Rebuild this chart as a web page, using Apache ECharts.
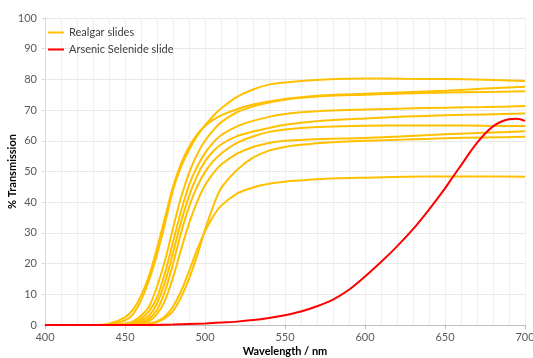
<!DOCTYPE html>
<html>
<head>
<meta charset="utf-8">
<script src="https://cdn.jsdelivr.net/npm/echarts@6/dist/echarts.min.js"></script>
<style>
  html, body { margin: 0; padding: 0; background: #fff; }
  #chart { width: 533px; height: 358px; }
</style>
</head>
<body>
<div id="chart"></div>
<script>
// wavelength (nm) sample points for the realgar curves
const wl = [400, 430, 440, 450, 455, 460, 465, 470, 475, 480, 485, 490, 495, 500, 505, 510, 520, 530, 540, 550, 560, 575, 600, 625, 650, 675, 700]

// % transmission, one array per realgar slide
const realgar1 = [0, 0, 0.2, 1.5, 3.5, 8, 14.5, 23, 33, 44, 51.5, 57, 61.5, 65, 68, 70.5, 74.3, 76.7, 78.3, 79, 79.5, 80, 80.3, 80.2, 80.1, 79.9, 79.5]
const realgar2 = [0, 0, 0.4, 2.5, 5, 9.5, 16, 25, 35, 45, 52.5, 58, 62, 64.8, 66.8, 68.3, 70.3, 71.8, 72.8, 73.6, 74.2, 74.8, 75.3, 75.8, 76.3, 77, 77.6]
const realgar3 = [0, 0, 0, 0.5, 1.2, 3, 6, 12.5, 21, 31.5, 41.5, 49.5, 55.5, 60, 63.3, 66, 69.3, 71.2, 72.5, 73.4, 74, 74.6, 75, 75.4, 75.7, 75.9, 76.1]
const realgar4 = [0, 0, 0, 0.3, 0.8, 2, 4.5, 9, 17, 27, 37, 45.5, 51.5, 56, 59.3, 61.8, 64.7, 66.5, 67.8, 68.7, 69.3, 69.8, 70.2, 70.5, 70.8, 71, 71.3]
const realgar5 = [0, 0, 0, 0.2, 0.5, 1.3, 3, 7, 14, 23.5, 33.5, 42, 48.5, 53.3, 56.5, 58.8, 61.5, 63, 64.2, 65.2, 65.9, 66.6, 67.3, 67.9, 68.3, 68.6, 68.9]
const realgar6 = [0, 0, 0, 0.1, 0.3, 0.8, 2, 5, 11, 20, 30, 38.5, 45, 49.8, 53.3, 55.8, 59.3, 61.4, 62.9, 63.7, 64.2, 64.6, 64.9, 65, 65, 64.9, 64.8]
const realgar7 = [0, 0, 0, 0, 0.2, 0.5, 1.3, 3.5, 8, 15.5, 24.5, 33, 40, 45.5, 49.3, 52.2, 55.8, 58, 59.3, 60, 60.3, 60.6, 60.9, 61.5, 62.1, 62.6, 63.1]
const realgar8 = [0, 0, 0, 0, 0, 0.2, 0.5, 1, 2.2, 4.5, 9, 15, 22.5, 31, 38.5, 44.5, 50.5, 54.5, 56.8, 58, 58.7, 59.4, 60, 60.4, 60.8, 61.1, 61.3]
const realgar9 = [0, 0, 0, 0, 0.1, 0.2, 0.5, 1.2, 2.8, 6, 11, 17.5, 24.5, 30.5, 35.3, 38.8, 42.8, 44.8, 46, 46.7, 47.1, 47.6, 48, 48.3, 48.4, 48.4, 48.3]
const realgarAll = [realgar1, realgar2, realgar3, realgar4, realgar5, realgar6, realgar7, realgar8, realgar9]

// arsenic selenide slide
const redWl = [400, 450, 480, 500, 510, 520, 530, 540, 550, 560, 570, 580, 590, 600, 610, 620, 630, 640, 650, 655, 660, 665, 670, 675, 680, 685, 690, 695, 700]
const selenide = [0, 0, 0.2, 0.5, 0.8, 1.1, 1.6, 2.3, 3.2, 4.4, 6.1, 8.3, 11.5, 15.8, 20.5, 25.6, 31.2, 37.6, 44.5, 48.3, 52, 55.8, 59.3, 62.3, 64.7, 66.2, 67, 67.2, 66.5]

const FONT = 'Lato'
const chart = echarts.init(document.getElementById('chart'))

const series = realgarAll.map((arr) => ({
  name: 'Realgar slides',
  type: 'line',
  smooth: 0.3,
  symbol: 'none',
  lineStyle: { color: '#FFC000', width: 2 },
  itemStyle: { color: '#FFC000' },
  data: wl.map((x, i) => [x, arr[i]])
}))
series.push({
  name: 'Arsenic Selenide slide',
  type: 'line',
  smooth: 0.3,
  symbol: 'none',
  lineStyle: { color: '#FF0000', width: 2 },
  itemStyle: { color: '#FF0000' },
  data: redWl.map((x, i) => [x, selenide[i]])
})

chart.setOption({
  animation: false,
  textStyle: { fontFamily: FONT },
  grid: { left: 45, right: 8, top: 18, bottom: 33, outerBoundsMode: 'none', containLabel: false },
  legend: {
    orient: 'vertical',
    left: 48,
    top: 27,
    padding: 0,
    itemWidth: 16,
    itemHeight: 2,
    itemGap: 6,
    icon: 'rect',
    textStyle: { fontFamily: FONT, fontSize: 11, color: '#404040' },
    data: ['Realgar slides', 'Arsenic Selenide slide']
  },
  xAxis: {
    type: 'value',
    min: 400,
    max: 700,
    interval: 50,
    name: 'Wavelength / nm',
    nameLocation: 'middle',
    nameGap: 21,
    nameMoveOverlap: false,
    nameTextStyle: { fontFamily: FONT, fontSize: 11, fontWeight: 'bold', color: '#000' },
    axisLine: { lineStyle: { color: '#bfbfbf', width: 1 } },
    axisTick: { show: true, length: 4, lineStyle: { color: '#bfbfbf' } },
    axisLabel: { fontFamily: FONT, fontSize: 11, color: '#595959', margin: 7 },
    splitLine: { show: true, lineStyle: { color: '#efefef' } },
    minorTick: { show: false, splitNumber: 5 },
    minorSplitLine: { show: true, lineStyle: { color: '#efefef' } }
  },
  yAxis: {
    type: 'value',
    min: 0,
    max: 100,
    interval: 10,
    name: '% Transmission',
    nameLocation: 'middle',
    nameGap: 27,
    nameMoveOverlap: false,
    nameTextStyle: { fontFamily: FONT, fontSize: 11, fontWeight: 'bold', color: '#000' },
    axisLine: { show: true, lineStyle: { color: '#d9d9d9' } },
    axisTick: { show: true, length: 3, lineStyle: { color: '#d9d9d9' } },
    axisLabel: { fontFamily: FONT, fontSize: 11, color: '#595959', margin: 8 },
    splitLine: { show: true, lineStyle: { color: '#e8e8e8' } }
  },
  series: series
})
</script>
</body>
</html>
